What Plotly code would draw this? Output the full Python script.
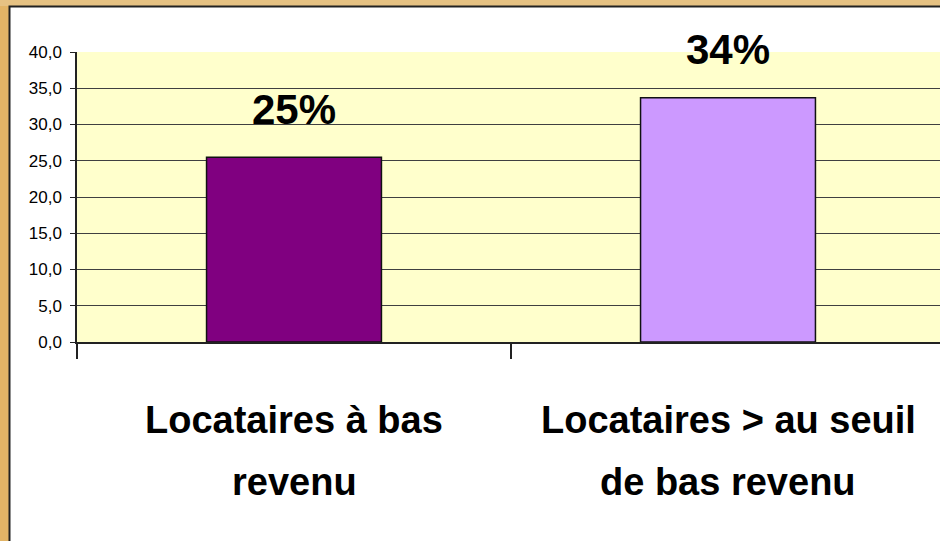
import plotly.graph_objects as go

# ---- data ----
categories = ["Locataires à bas revenu", "Locataires > au seuil de bas revenu"]
cat_line1 = ["Locataires à bas", "Locataires > au seuil"]
cat_line2 = ["revenu", "de bas revenu"]
values = [25.5, 33.7]
pct_labels = ["25%", "34%"]
bar_colors = ["#800080", "#CC99FF"]
y_ticks = [0, 5, 10, 15, 20, 25, 30, 35, 40]

W, H = 940, 541
ML, MT, MB = 77, 52, 199
PW = W - ML
PH = H - MT - MB


def px_x(px):
    return (px - ML) / PW


def px_y(py):
    return (H - MB - py) / PH


fig = go.Figure()
fig.add_trace(go.Bar(
    x=categories, y=values,
    marker=dict(color=bar_colors, line=dict(color="#111111", width=1.5)),
    hoverinfo="skip",
))

annotations = []
for c, v, lab in zip(categories, values, pct_labels):
    annotations.append(dict(
        x=c, y=v, xref="x", yref="y", text=lab, showarrow=False,
        yanchor="middle", yshift=48,
        font=dict(family="Liberation Sans Narrow, Arial Narrow, Liberation Sans",
                  size=42, color="black", weight="bold"),
    ))
for c, l1, l2 in zip(categories, cat_line1, cat_line2):
    annotations.append(dict(
        x=c, y=px_y(420), xref="x", yref="paper", text=l1, showarrow=False,
        yanchor="middle",
        font=dict(family="Liberation Sans, Arial", size=38, color="black", weight="bold"),
    ))
    annotations.append(dict(
        x=c, y=px_y(482), xref="x", yref="paper", text=l2, showarrow=False,
        yanchor="middle",
        font=dict(family="Liberation Sans, Arial", size=38, color="black", weight="bold"),
    ))

shapes = [
    # orange textured frame (left and top strips)
    dict(type="rect", xref="paper", yref="paper", x0=px_x(-5), x1=px_x(9), y0=px_y(H + 5), y1=px_y(-5),
         fillcolor="#E2B466", line=dict(width=0), layer="below"),
    dict(type="rect", xref="paper", yref="paper", x0=px_x(-5), x1=px_x(W + 5), y0=px_y(6), y1=px_y(-5),
         fillcolor="#E6C283", line=dict(width=0), layer="below"),
    dict(type="rect", xref="paper", yref="paper", x0=px_x(9.5), x1=px_x(W + 5), y0=px_y(H + 5), y1=px_y(6.5),
         fillcolor="rgba(0,0,0,0)", line=dict(color="#222222", width=2), layer="above"),
]

fig.update_layout(
    width=W, height=H,
    margin=dict(l=ML, r=0, t=MT, b=MB, pad=0),
    paper_bgcolor="white",
    plot_bgcolor="#FFFFCC",
    separators=",.",
    bargap=0.597,
    showlegend=False,
    annotations=annotations,
    shapes=shapes,
    font=dict(family="Liberation Sans, Arial", color="black"),
)
fig.update_xaxes(
    range=[-0.5, 1.5 - 5 / 434],
    showline=True, linecolor="#222222", linewidth=2,
    ticks="outside", tickson="boundaries", ticklen=15, tickwidth=1.5, tickcolor="#222222",
    showticklabels=False, showgrid=False, zeroline=False,
)
fig.update_yaxes(
    range=[0, 40], tickvals=y_ticks, tickformat=".1f",
    showline=True, linecolor="#222222", linewidth=1.5,
    ticks="outside", ticklen=5, tickcolor="#222222",
    ticklabelstandoff=5,
    showgrid=True, gridcolor="#404040", gridwidth=1,
    zeroline=False,
    tickfont=dict(family="Liberation Sans, Arial", size=17, color="black"),
)

fig.write_html("out.html", config={"displayModeBar": False},
               post_script="document.body.style.margin='0';document.body.style.overflow='hidden';")
